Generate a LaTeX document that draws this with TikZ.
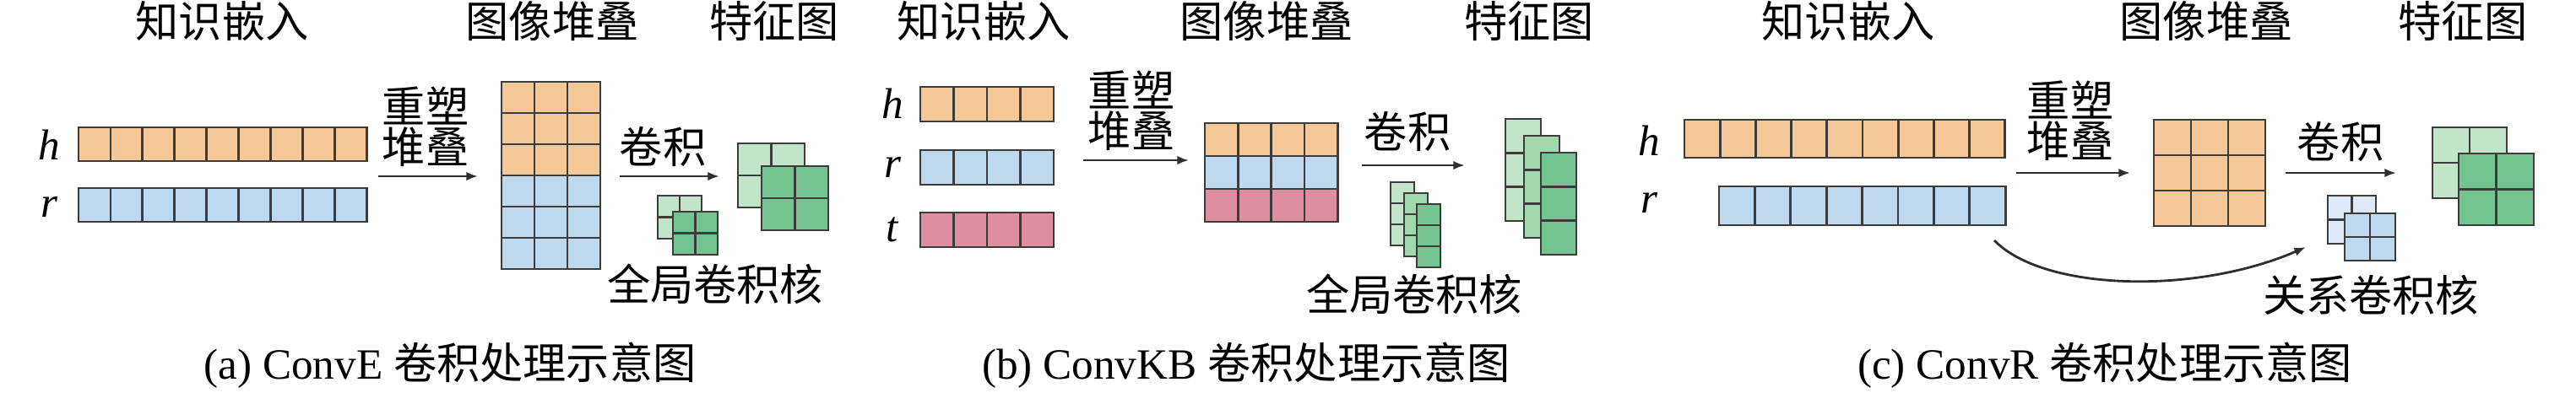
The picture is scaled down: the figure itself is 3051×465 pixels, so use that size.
\documentclass[tikz,border=0pt]{standalone}
\usepackage{fontspec}
\setmainfont{Liberation Serif}
\newfontfamily\cjk{Noto Sans CJK SC}
\usetikzlibrary{arrows.meta}
\definecolor{cOr}{HTML}{F4C898}
\definecolor{cBl}{HTML}{BED8EE}
\definecolor{cBv}{HTML}{DCE9F6}
\definecolor{cPk}{HTML}{DF8DA0}
\definecolor{cGl}{HTML}{C2E4C8}
\definecolor{cGm}{HTML}{A2D8AD}
\definecolor{cGd}{HTML}{74C492}
\definecolor{gridc}{HTML}{3C3C3C}
\definecolor{arrowc}{HTML}{2E2E2E}
\tikzset{
  cell/.style={draw=gridc, line width=0.7pt},
  blkbox/.style={draw=gridc, line width=0.7pt, inner sep=0pt, outer sep=0pt},
  txt/.style={font=\cjk\fontsize{12.8pt}{12pt}\selectfont, inner sep=0pt, align=center},
  lab/.style={font=\fontsize{12.8pt}{14pt}\selectfont\itshape, inner sep=0pt},
  captxt/.style={font=\fontsize{12.8pt}{14pt}\selectfont, inner sep=0pt},
  arr/.style={-{Latex[length=3.4pt,width=2.6pt]}, line width=0.7pt, draw=arrowc},
}
% #1 name, #2 x, #3 y (top-left), #4 cols, #5 rows, #6 cell w, #7 cell h, #8 fill
\newcommand\blk[8]{%
  \foreach \ii in {1,...,#4}{\foreach \jj in {1,...,#5}{%
    \draw[cell, fill=#8] ({#2+(\ii-1)*#6},{#3+(\jj-1)*#7}) rectangle ++(#6,#7);}}%
  \node[blkbox, minimum width={#4*#6*0.25pt}, minimum height={#5*#7*0.25pt}, anchor=north west] (#1) at (#2,#3) {};%
}
\begin{document}
\begin{tikzpicture}[x=0.25pt,y=-0.25pt]
\fill[white] (0,0) rectangle (3051,465);
\useasboundingbox (0,0) rectangle (3051,465);

%% ---------------- panel (a) ----------------
\node[txt] (tA1) at (263,25) {知识嵌入};
\node[txt] (tA2) at (654,25) {图像堆叠};
\node[txt] (tA3) at (917,25) {特征图};
\node[lab] (lhA) at (58,172) {h};
\node[lab] (lrA) at (58,245) {r};
\blk{hA}{93}{151}{9}{1}{37.9}{40}{cOr}
\blk{rA}{93}{223}{9}{1}{37.9}{40}{cBl}
\node[txt] (rsA) at (504,150) {重塑\\堆叠};
\coordinate (a1s) at (448,209); \coordinate (a1e) at (566,209);
\draw[arr] (a1s) -- (a1e);
\blk{sAo}{594}{97}{3}{3}{39}{37}{cOr}
\blk{sAb}{594}{208}{3}{3}{39}{37}{cBl}
\node[txt] (cvA) at (785,174) {卷积};
\coordinate (a2s) at (734,209); \coordinate (a2e) at (852,209);
\draw[arr] (a2s) -- (a2e);
\blk{kAb}{779}{232}{2}{2}{26}{25.5}{cGl}
\blk{kAf}{797}{251}{2}{2}{26.5}{25.5}{cGd}
\blk{fAb}{874}{170}{2}{2}{39.5}{38}{cGl}
\blk{fAf}{902}{197}{2}{2}{39.5}{38}{cGd}
\node[txt] (kA) at (847,337) {全局卷积核};
\node[captxt] (capA) at (533,433) {(a) ConvE {\cjk 卷积处理示意图}};

%% ---------------- panel (b) ----------------
\node[txt] (tB1) at (1165,25) {知识嵌入};
\node[txt] (tB2) at (1500,25) {图像堆叠};
\node[txt] (tB3) at (1811,25) {特征图};
\node[lab] (lhB) at (1057,123) {h};
\node[lab] (lrB) at (1057,198) {r};
\node[lab] (ltB) at (1057,272) {t};
\blk{hB}{1090}{103}{4}{1}{39.5}{41}{cOr}
\blk{rB}{1090}{178}{4}{1}{39.5}{41}{cBl}
\blk{tB}{1090}{252}{4}{1}{39.5}{41}{cPk}
\node[txt] (rsB) at (1340,131) {重塑\\堆叠};
\coordinate (b1s) at (1283,190); \coordinate (b1e) at (1408,190);
\draw[arr] (b1s) -- (b1e);
\blk{sB1}{1427}{146}{4}{1}{39.3}{39}{cOr}
\blk{sB2}{1427}{185}{4}{1}{39.3}{39}{cBl}
\blk{sB3}{1427}{224}{4}{1}{39.3}{39}{cPk}
\node[txt] (cvB) at (1667,156) {卷积};
\coordinate (b2s) at (1613,196); \coordinate (b2e) at (1735,196);
\draw[arr] (b2s) -- (b2e);
\blk{kB1}{1647}{216}{1}{3}{28}{25}{cGl}
\blk{kB2}{1663}{229}{1}{3}{28}{25}{cGm}
\blk{kB3}{1678}{242}{1}{3}{28}{25}{cGd}
\blk{fB1}{1783}{141}{1}{3}{42}{40.3}{cGl}
\blk{fB2}{1805}{161}{1}{3}{42}{40.3}{cGm}
\blk{fB3}{1825}{181}{1}{3}{42}{40.3}{cGd}
\node[txt] (kB) at (1675,349) {全局卷积核};
\node[captxt] (capB) at (1476,433) {(b) ConvKB {\cjk 卷积处理示意图}};

%% ---------------- panel (c) ----------------
\node[txt] (tC1) at (2189,25) {知识嵌入};
\node[txt] (tC2) at (2613,25) {图像堆叠};
\node[txt] (tC3) at (2917,25) {特征图};
\node[lab] (lhC) at (1953,167) {h};
\node[lab] (lrC) at (1953,240) {r};
\blk{hC}{1995}{142}{9}{1}{42.2}{45}{cOr}
\blk{rC}{2036}{221}{8}{1}{42.4}{46}{cBl}
\node[txt] (rsC) at (2452,143) {重塑\\堆叠};
\coordinate (c1s) at (2388,205); \coordinate (c1e) at (2523,205);
\draw[arr] (c1s) -- (c1e);
\blk{sC}{2551}{142}{3}{3}{44}{42}{cOr}
\node[txt] (cvC) at (2772,168) {卷积};
\coordinate (c2s) at (2707,205); \coordinate (c2e) at (2838,205);
\draw[arr] (c2s) -- (c2e);
\blk{kCb}{2757}{232}{2}{2}{28.5}{28.5}{cBv}
\blk{kCf}{2777}{253}{2}{2}{30}{28}{cBl}
\blk{fCb}{2881}{151}{2}{2}{44}{42}{cGl}
\blk{fCf}{2912}{182}{2}{2}{44.5}{42.5}{cGd}
\coordinate (c3s) at (2362,285); \coordinate (c3e) at (2731,293);
\draw[arr] (c3s) .. controls (2420,345) and (2600,350) .. (c3e);
\node[txt] (kC) at (2808,350) {关系卷积核};
\node[captxt] (capC) at (2493,433) {(c) ConvR {\cjk 卷积处理示意图}};
\end{tikzpicture}
\end{document}
